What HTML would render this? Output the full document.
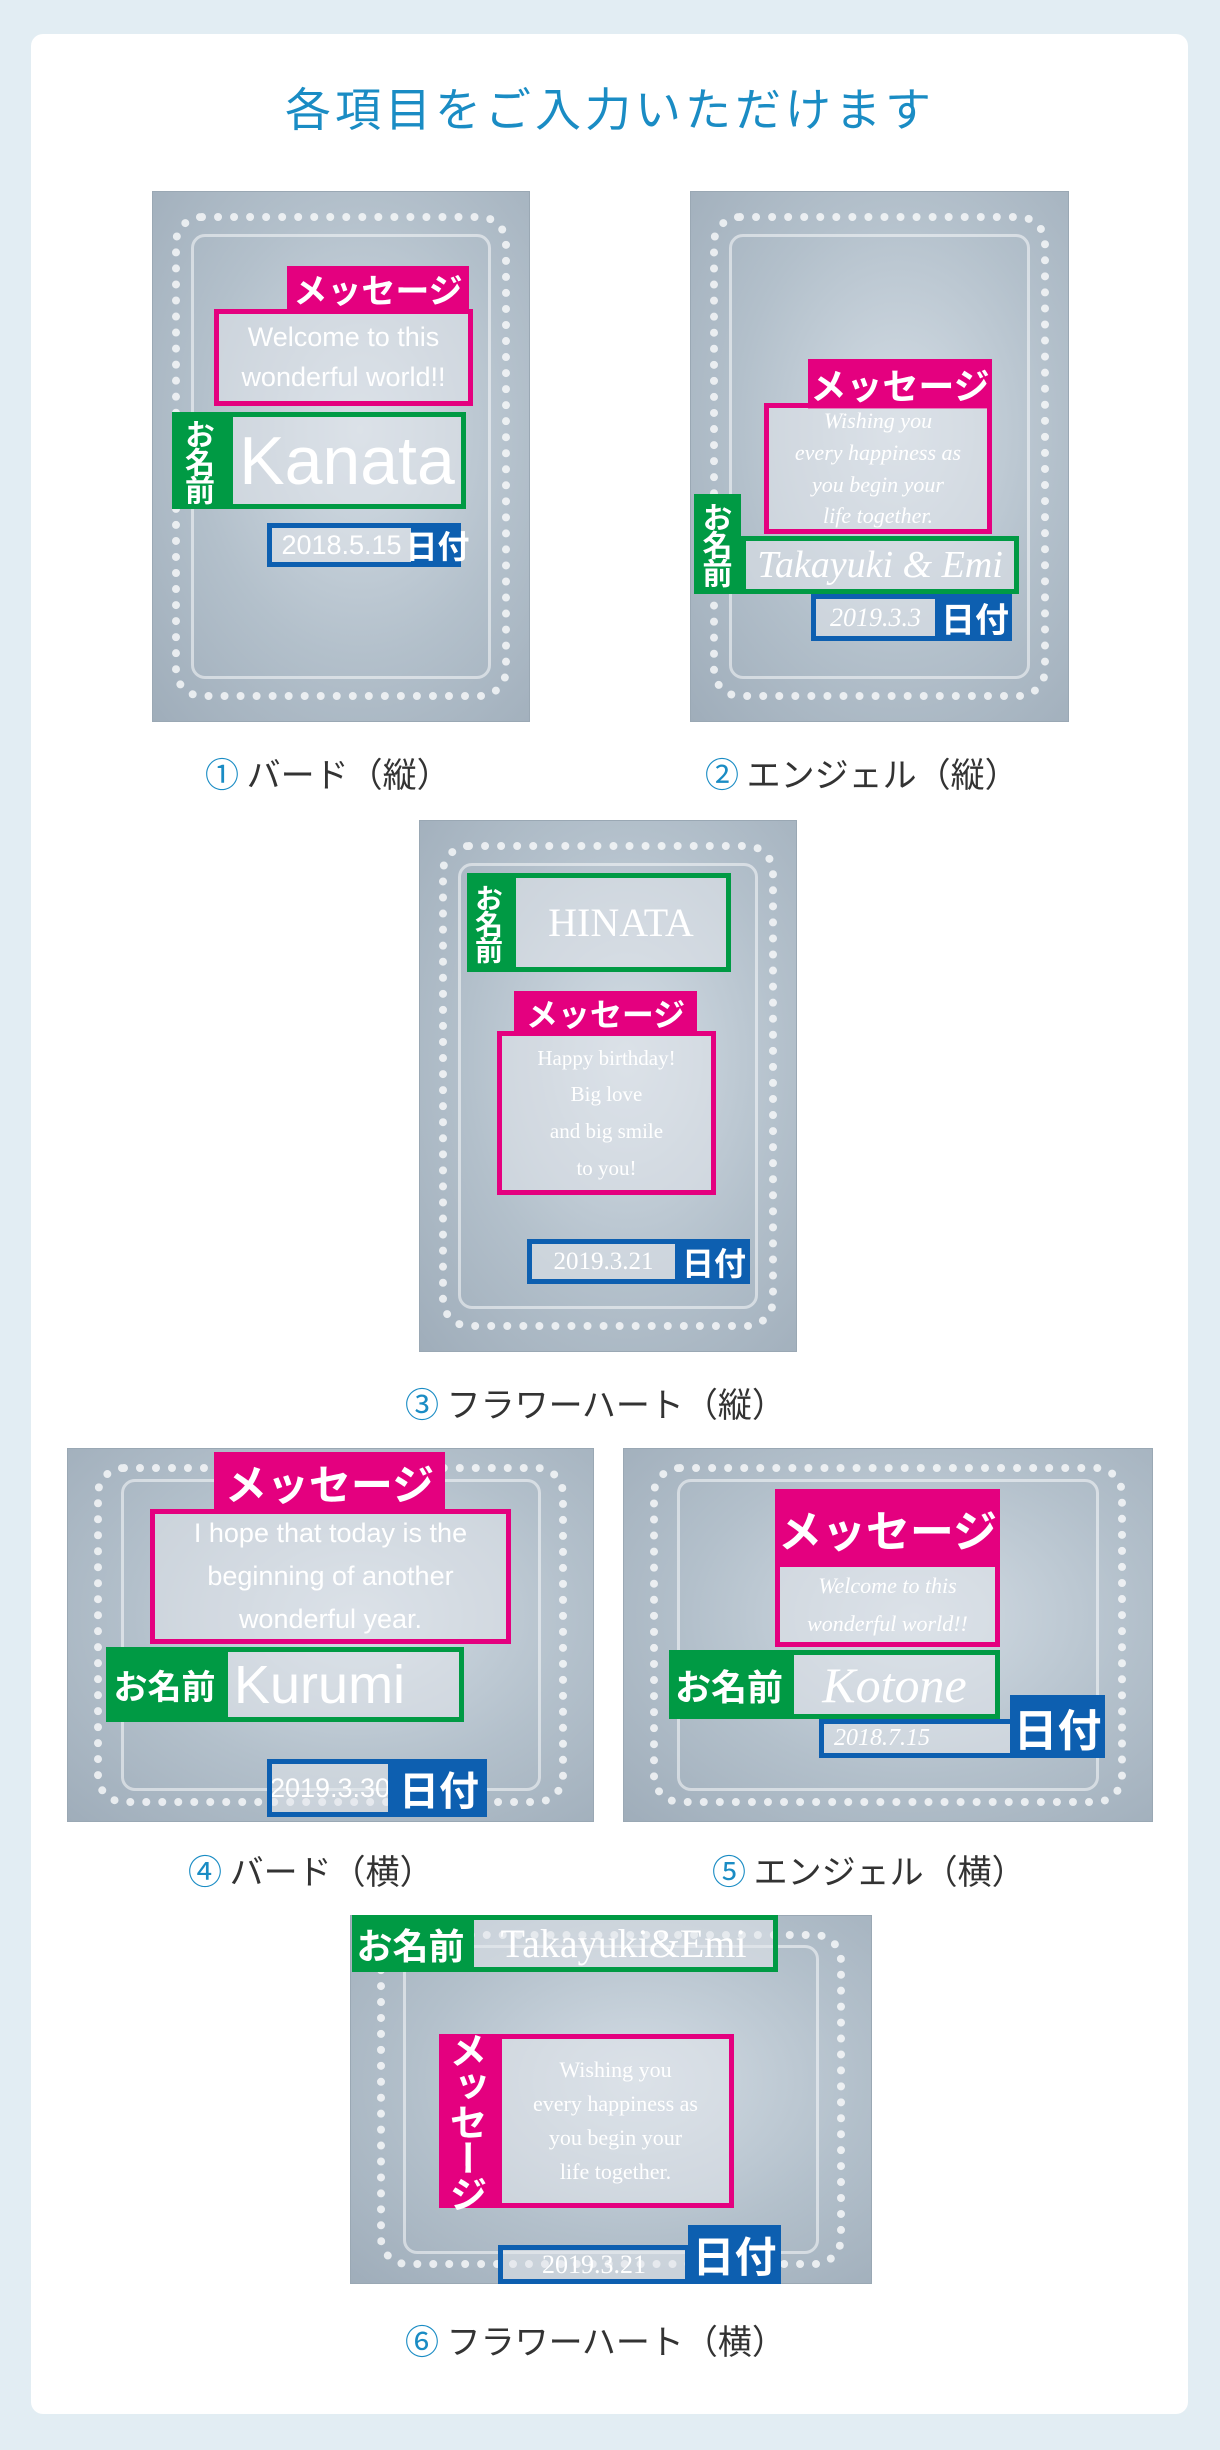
<!DOCTYPE html>
<html><head><meta charset="utf-8"><style>
*{margin:0;padding:0;box-sizing:border-box}
body{width:1220px;height:2450px;background:#e2edf3;position:relative;font-family:"Liberation Sans","Noto Sans CJK JP",sans-serif;overflow:hidden}
.card{position:absolute;left:31px;top:34px;width:1157px;height:2380px;background:#fff;border-radius:12px}
.ab{position:absolute}
.title{left:0;width:1220px;top:74px;text-align:center;font-size:46px;color:#1a8cc4;letter-spacing:4px;font-family:"Noto Sans CJK JP",sans-serif}
.panel{position:absolute;background:radial-gradient(ellipse at 55% 45%,#d4dde5 0%,#b3c0cb 55%,#9fadba 100%);border:1px solid #9aa8b4;overflow:hidden}
.panel::before{content:"";position:absolute;left:5%;top:4%;right:5%;bottom:4%;border:8px dotted rgba(255,255,255,.75);border-radius:30px}
.panel::after{content:"";position:absolute;left:10%;top:8%;right:10%;bottom:8%;border:3px solid rgba(255,255,255,.5);border-radius:14px}
.lbl{position:absolute;color:#fff;font-weight:bold;font-family:"Noto Sans CJK JP",sans-serif;display:flex;align-items:center;justify-content:center;z-index:2;white-space:nowrap;line-height:1}
.box{position:absolute;border:5px solid;background:rgba(225,230,235,.55);color:#fff;display:flex;align-items:center;justify-content:center;text-align:center;z-index:2;overflow:hidden;white-space:nowrap}
.m{background-color:#e4007f}.g{background-color:#009a44}.b{background-color:#0d5fb0}
.bm{border-color:#e4007f}.bg{border-color:#009a44}.bb{border-color:#0d5fb0}
.vt{writing-mode:vertical-rl;text-orientation:upright;letter-spacing:-2px}
.cap{position:absolute;font-size:34px;color:#333;font-family:"Noto Sans CJK JP",sans-serif;white-space:nowrap}
.cap span{color:#1a8cc4}
.serif{font-family:"Liberation Serif",serif;font-style:italic}
.rs{font-family:"Liberation Serif",serif}
</style></head><body>
<div class="card"></div>
<div class="ab title">各項目をご入力いただけます</div>

<!-- Panel 1 -->
<div class="panel" style="left:152px;top:191px;width:378px;height:531px"></div>
<div class="lbl m" style="left:287px;top:266px;width:182px;height:46px;font-size:34px">メッセージ</div>
<div class="box bm" style="left:214px;top:309px;width:259px;height:97px;font-size:27px;line-height:1.45">Welcome to this<br>wonderful world!!</div>
<div class="lbl g vt" style="left:172px;top:412px;width:56px;height:97px;font-size:30px">お名前</div>
<div class="box bg" style="left:228px;top:412px;width:238px;height:97px;font-size:68px">Kanata</div>
<div class="box bb" style="left:267px;top:523px;width:149px;height:44px;font-size:27px">2018.5.15</div>
<div class="lbl b" style="left:414px;top:523px;width:47px;height:44px;font-size:32px">日付</div>
<div class="cap" style="left:205px;top:748px"><span>①</span> バード（縦）</div>

<!-- Panel 2 -->
<div class="panel" style="left:690px;top:191px;width:379px;height:531px"></div>
<div class="lbl m" style="left:808px;top:359px;width:184px;height:50px;font-size:36px">メッセージ</div>
<div class="box bm serif" style="left:764px;top:403px;width:228px;height:131px;font-size:22px;line-height:1.45">Wishing you<br>every happiness as<br>you begin your<br>life together.</div>
<div class="lbl g vt" style="left:694px;top:494px;width:47px;height:100px;font-size:30px">お名前</div>
<div class="box bg serif" style="left:741px;top:536px;width:278px;height:58px;font-size:38px">Takayuki &amp; Emi</div>
<div class="box bb serif" style="left:811px;top:594px;width:129px;height:47px;font-size:26px">2019.3.3</div>
<div class="lbl b" style="left:938px;top:594px;width:74px;height:47px;font-size:34px">日付</div>
<div class="cap" style="left:705px;top:748px"><span>②</span> エンジェル（縦）</div>

<!-- Panel 3 -->
<div class="panel" style="left:419px;top:820px;width:378px;height:532px"></div>
<div class="lbl g vt" style="left:467px;top:873px;width:44px;height:99px;font-size:28px">お名前</div>
<div class="box bg rs" style="left:511px;top:873px;width:220px;height:99px;font-size:40px">HINATA</div>
<div class="lbl m" style="left:514px;top:991px;width:183px;height:43px;font-size:32px">メッセージ</div>
<div class="box bm rs" style="left:497px;top:1031px;width:219px;height:164px;font-size:21px;line-height:1.75">Happy birthday!<br>Big love<br>and big smile<br>to you!</div>
<div class="box bb rs" style="left:527px;top:1239px;width:153px;height:45px;font-size:25px">2019.3.21</div>
<div class="lbl b" style="left:678px;top:1239px;width:72px;height:45px;font-size:32px">日付</div>
<div class="cap" style="left:405px;top:1378px"><span>③</span> フラワーハート（縦）</div>

<!-- Panel 4 -->
<div class="panel" style="left:67px;top:1448px;width:527px;height:374px"></div>
<div class="lbl m" style="left:214px;top:1452px;width:231px;height:61px;font-size:42px">メッセージ</div>
<div class="box bm" style="left:150px;top:1509px;width:361px;height:135px;font-size:27px;line-height:1.6">I hope that today is the<br>beginning of another<br>wonderful year.</div>
<div class="lbl g" style="left:106px;top:1647px;width:117px;height:75px;font-size:34px">お名前</div>
<div class="box bg" style="left:223px;top:1647px;width:241px;height:75px;font-size:54px;justify-content:flex-start;padding-left:6px">Kurumi</div>
<div class="box bb" style="left:267px;top:1759px;width:126px;height:58px;font-size:27px">2019.3.30</div>
<div class="lbl b" style="left:391px;top:1759px;width:96px;height:58px;font-size:40px">日付</div>
<div class="cap" style="left:188px;top:1845px"><span>④</span> バード（横）</div>

<!-- Panel 5 -->
<div class="panel" style="left:623px;top:1448px;width:530px;height:374px"></div>
<div class="lbl m" style="left:775px;top:1489px;width:225px;height:78px;font-size:44px">メッセージ</div>
<div class="box bm serif" style="left:775px;top:1562px;width:225px;height:85px;font-size:22px;line-height:1.7">Welcome to this<br>wonderful world!!</div>
<div class="lbl g" style="left:669px;top:1650px;width:120px;height:69px;font-size:36px">お名前</div>
<div class="box bg serif" style="left:789px;top:1650px;width:211px;height:69px;font-size:50px">Kotone</div>
<div class="box bb serif" style="left:819px;top:1719px;width:197px;height:39px;font-size:24px;justify-content:flex-start;padding-left:10px">2018.7.15</div>
<div class="lbl b" style="left:1010px;top:1695px;width:95px;height:63px;font-size:44px">日付</div>
<div class="cap" style="left:712px;top:1845px"><span>⑤</span> エンジェル（横）</div>

<!-- Panel 6 -->
<div class="panel" style="left:350px;top:1915px;width:522px;height:369px"></div>
<div class="lbl g" style="left:352px;top:1915px;width:117px;height:57px;font-size:36px">お名前</div>
<div class="box bg rs" style="left:469px;top:1915px;width:309px;height:57px;font-size:40px">Takayuki&amp;Emi</div>
<div class="lbl m vt" style="left:439px;top:2034px;width:58px;height:174px;font-size:38px">メッセージ</div>
<div class="box bm rs" style="left:497px;top:2034px;width:237px;height:174px;font-size:22px;line-height:1.55">Wishing you<br>every happiness as<br>you begin your<br>life together.</div>
<div class="box bb rs" style="left:498px;top:2245px;width:192px;height:39px;font-size:26px">2019.3.21</div>
<div class="lbl b" style="left:688px;top:2225px;width:93px;height:59px;font-size:42px">日付</div>
<div class="cap" style="left:405px;top:2315px"><span>⑥</span> フラワーハート（横）</div>
</body></html>
